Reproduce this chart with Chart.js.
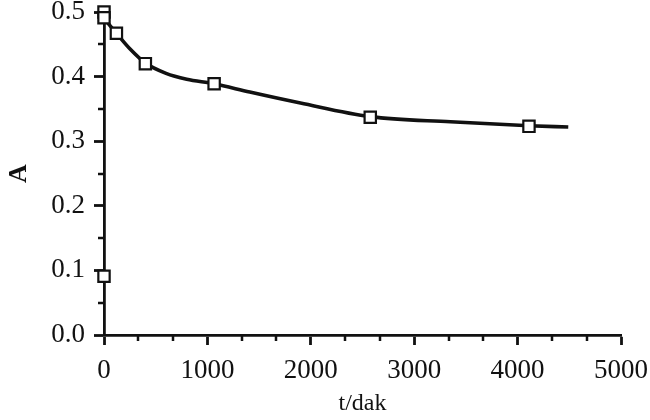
<!DOCTYPE html>
<html>
<head>
<meta charset="utf-8">
<script src="https://cdn.jsdelivr.net/npm/chart.js@4.4.1/dist/chart.umd.min.js"></script>
<style>
  html, body { margin: 0; padding: 0; background: #fff; }
  #wrap { width: 650px; height: 420px; }
</style>
</head>
<body>
<div id="wrap"><canvas id="absChart"></canvas></div>
<script>
// measured absorbance against time (minutes)
const timeMin = [0, 0, 120, 400, 1065, 2575, 4110, 0];
const absorb = [0.500, 0.491, 0.467, 0.420, 0.389, 0.337, 0.323, 0.091];

// hand-drawn trend line through the measurements
const curveT = [0, 120, 250, 400, 600, 800, 1065, 1410, 1900, 2575, 3350, 4110, 4490];
const curveA = [0.490, 0.467, 0.443, 0.421, 0.405, 0.396, 0.389, 0.376, 0.359, 0.338, 0.330, 0.324, 0.322];

const xTicks = [0, 1000, 2000, 3000, 4000, 5000];
const yTicks = [0.0, 0.1, 0.2, 0.3, 0.4, 0.5];

const serif = "'Liberation Serif', 'DejaVu Serif', serif";
const ink = '#111';

// short minor ticks between the labelled ones
const minorTicks = {
  id: 'minorTicks',
  afterDraw(chart) {
    const { ctx, scales: { x, y } } = chart;
    ctx.save();
    ctx.strokeStyle = ink;
    ctx.lineWidth = 2.5;
    ctx.beginPath();
    const xStep = (xTicks[1] - xTicks[0]) / 3;
    for (let v = xTicks[0]; v < xTicks[xTicks.length - 1]; v += xStep) {
      if (Math.abs(v / 1000 - Math.round(v / 1000)) < 1e-6) continue;
      const px = Math.round(x.getPixelForValue(v));
      ctx.moveTo(px, y.bottom);
      ctx.lineTo(px, y.bottom + 6);
    }
    const yStep = (yTicks[1] - yTicks[0]) / 2;
    for (let v = yTicks[0] + yStep; v < yTicks[yTicks.length - 1]; v += 2 * yStep) {
      const py = Math.round(y.getPixelForValue(v));
      ctx.moveTo(x.left, py);
      ctx.lineTo(x.left - 6, py);
    }
    ctx.stroke();
    ctx.restore();
  }
};

new Chart(document.getElementById('absChart'), {
  type: 'scatter',
  data: {
    datasets: [{
      label: 'ölçüm',
      data: timeMin.map((t, i) => ({ x: t, y: absorb[i] })),
      pointStyle: 'rect',
      pointRadius: 8,
      pointBorderWidth: 2.2,
      pointBackgroundColor: '#fff',
      pointBorderColor: ink,
      showLine: false,
      clip: false
    }, {
      label: 'eğri',
      data: curveT.map((t, i) => ({ x: t, y: curveA[i] })),
      showLine: true,
      borderColor: ink,
      borderWidth: 3.6,
      pointRadius: 0,
      cubicInterpolationMode: 'monotone',
      clip: false
    }]
  },
  options: {
    responsive: true,
    maintainAspectRatio: false,
    animation: false,
    layout: { padding: { left: 4, top: 12, right: 29, bottom: 2 } },
    plugins: { legend: { display: false }, tooltip: { enabled: false } },
    scales: {
      x: {
        type: 'linear',
        min: 0,
        max: 5000,
        afterBuildTicks: s => { s.ticks = xTicks.map(v => ({ value: v })); },
        afterFit: s => { s.height = 83; s.paddingLeft = 0; s.paddingRight = 0; },
        ticks: { color: ink, font: { family: serif, size: 27 }, padding: 10, maxRotation: 0, callback: v => String(v) },
        grid: { drawOnChartArea: false, color: ink, tickLength: 10, tickWidth: 2.8 },
        border: { color: ink, width: 2.8 },
        title: { display: true, text: 't/dak', color: ink, font: { family: serif, size: 24 }, padding: { top: 0, bottom: 0 } }
      },
      y: {
        min: 0,
        max: 0.5,
        afterBuildTicks: s => { s.ticks = yTicks.map(v => ({ value: v })); },
        afterFit: s => { s.width = 100; s.paddingTop = 0; s.paddingBottom = 0; },
        ticks: { color: ink, font: { family: serif, size: 27 }, padding: 9, callback: v => v.toFixed(1) },
        grid: { drawOnChartArea: false, color: ink, tickLength: 10, tickWidth: 2.8 },
        border: { color: ink, width: 2.8 },
        title: { display: true, text: 'A', color: ink, font: { family: serif, size: 26, weight: 'bold' }, padding: { top: 0, bottom: 0 } }
      }
    }
  },
  plugins: [minorTicks]
});
</script>
</body>
</html>
